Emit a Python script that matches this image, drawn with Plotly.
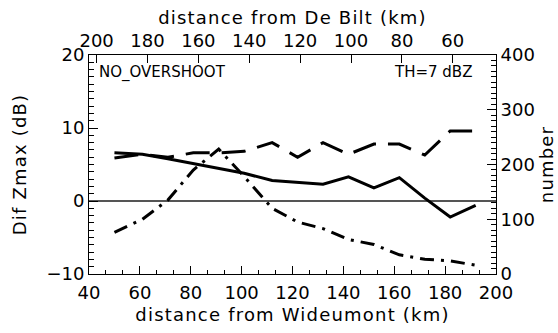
import plotly.graph_objects as go

# ---- data ----
wideumont_km = [50, 61, 71, 81, 91, 101, 112, 122, 132, 142, 152, 162, 172, 182, 192]
dif_zmax_solid = [6.6, 6.4, 5.8, 5.1, 4.5, 3.8, 2.8, 2.5, 2.3, 3.3, 1.8, 3.2, 0.4, -2.2, -0.6]
dif_zmax_dashed = [5.9, 6.4, 6.0, 6.6, 6.6, 6.8, 8.0, 6.0, 8.0, 6.4, 7.8, 7.8, 6.3, 9.6, 9.6]
number_dashdot = [76, 100, 135, 190, 228, 178, 120, 95, 83, 63, 54, 35, 27, 24, 16]

bottom_ticks = [40, 60, 80, 100, 120, 140, 160, 180, 200]
debilt_ticks = [200, 180, 160, 140, 120, 100, 80, 60]
left_ticks = [-10, 0, 10, 20]
right_ticks = [0, 100, 200, 300, 400]
DEBILT_OFFSET = 243  # De Bilt distance = 243 - Wideumont distance

X_RANGE = [40, 200]
Y_RANGE = [-10, 20]
Y2_RANGE = [0, 400]

FONT = "DejaVu Sans"
LS = "letter-spacing:1.2px"

fig = go.Figure()
fig.add_trace(go.Scatter(x=wideumont_km, y=dif_zmax_solid, mode="lines",
                         line=dict(color="black", width=3, dash="solid"),
                         xaxis="x", yaxis="y", showlegend=False))
fig.add_trace(go.Scatter(x=wideumont_km, y=dif_zmax_dashed, mode="lines",
                         line=dict(color="black", width=3, dash="24px,12px"),
                         xaxis="x", yaxis="y", showlegend=False))
fig.add_trace(go.Scatter(x=wideumont_km, y=number_dashdot, mode="lines",
                         line=dict(color="black", width=3, dash="14px,7px,3px,7px"),
                         xaxis="x", yaxis="y2", showlegend=False))
# invisible helper trace so the top (De Bilt) axis gets created
fig.add_trace(go.Scatter(x=[DEBILT_OFFSET - w for w in wideumont_km], y=dif_zmax_solid,
                         mode="lines", line=dict(width=0, color="rgba(0,0,0,0)"),
                         hoverinfo="skip", xaxis="x2", yaxis="y", showlegend=False))

tickfont = dict(family=FONT, size=18, color="black")
axis_common = dict(showline=True, linecolor="black", linewidth=1,
                   ticks="inside", tickcolor="black", tickwidth=1,
                   showgrid=False, tickfont=tickfont)

fig.update_layout(
    width=558, height=333,
    margin=dict(l=89, r=62, t=55, b=59, autoexpand=False),
    paper_bgcolor="white", plot_bgcolor="white",
    font=dict(family=FONT, color="black"),
    xaxis=dict(range=X_RANGE, tickvals=bottom_ticks, ticklen=8, zeroline=False,
               minor=dict(ticks="inside", dtick=20 / 3, tick0=40, ticklen=4,
                          tickcolor="black", tickwidth=1),
               ticklabelstandoff=2,
               title=dict(text=f'<span style="{LS}">distance from Wideumont (km)</span>',
                          font=dict(family=FONT, size=18), standoff=6),
               **axis_common),
    xaxis2=dict(range=[DEBILT_OFFSET - X_RANGE[0], DEBILT_OFFSET - X_RANGE[1]],
                tickvals=debilt_ticks, ticklen=8,
                overlaying="x", side="top", anchor="y", zeroline=False,
                title=dict(text=f'<span style="{LS}">distance from De Bilt (km)</span>',
                           font=dict(family=FONT, size=18), standoff=0),
                **axis_common),
    yaxis=dict(range=Y_RANGE, tickvals=left_ticks, ticklen=9,
               minor=dict(ticks="inside", dtick=1, tick0=0, ticklen=5,
                          tickcolor="black", tickwidth=1),
               zeroline=True, zerolinecolor="#555555", zerolinewidth=1.5,
               title=dict(text=f'<span style="{LS}">Dif Zmax (dB)</span>',
                          font=dict(family=FONT, size=18), standoff=15),
               **axis_common),
    yaxis2=dict(range=Y2_RANGE, tickvals=right_ticks, ticklen=9,
                minor=dict(ticks="inside", dtick=10, tick0=0, ticklen=5,
                           tickcolor="black", tickwidth=1),
                overlaying="y", side="right", anchor="x", zeroline=False,
                title=dict(text=f'<span style="{LS}">number</span>',
                           font=dict(family=FONT, size=18), standoff=6),
                **axis_common),
    annotations=[
        dict(text="NO_OVERSHOOT", xref="x domain", yref="y domain", x=0, y=1,
             xanchor="left", yanchor="top", xshift=8, yshift=-6, showarrow=False,
             font=dict(family=FONT, size=15, color="black")),
        dict(text="TH=7 dBZ", xref="x domain", yref="y domain", x=1, y=1,
             xanchor="right", yanchor="top", xshift=-22, yshift=-6, showarrow=False,
             font=dict(family=FONT, size=15, color="black")),
    ],
)

fig.write_html("out.html")
